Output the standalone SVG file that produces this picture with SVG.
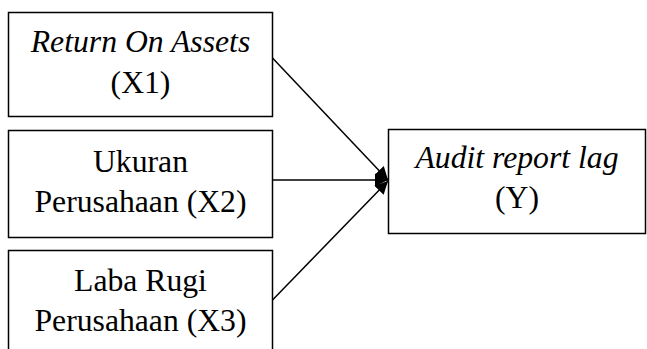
<svg xmlns="http://www.w3.org/2000/svg" width="647" height="349" viewBox="0 0 647 349">
<style>
.box{fill:#fff;stroke:#000;stroke-width:1.5}
.t{font-family:"Liberation Serif","Times New Roman",serif;font-size:31.7px;fill:#000;text-anchor:middle}
.i{font-style:italic}
.c{stroke:#000;stroke-width:1.5;fill:none;marker-end:url(#ah)}
</style>
<defs>
<marker id="ah" markerUnits="userSpaceOnUse" markerWidth="14" markerHeight="16" refX="13" refY="8" orient="auto">
<path d="M0,1.5 L13,8 L0,14.5 Z" fill="#000"/>
</marker>
</defs>
<rect width="647" height="349" fill="#fff"/>
<g id="connectors">
<line class="c" x1="272.5" y1="58" x2="388" y2="180"/>
<line class="c" x1="272.5" y1="180" x2="388" y2="180"/>
<line class="c" x1="272.5" y1="300" x2="388" y2="181"/>
</g>
<g id="x1">
<rect class="box" x="8.5" y="12.5" width="264" height="104"/>
<text class="t i" x="140.5" y="52">Return On Assets</text>
<text class="t" x="140.5" y="93">(X1)</text>
</g>
<g id="x2">
<rect class="box" x="8.5" y="130.5" width="264" height="107"/>
<text class="t" x="140.5" y="172">Ukuran</text>
<text class="t" x="140.5" y="212">Perusahaan (X2)</text>
</g>
<g id="x3">
<rect class="box" x="8.5" y="250.5" width="264" height="107"/>
<text class="t" x="140.5" y="291">Laba Rugi</text>
<text class="t" x="140.5" y="331">Perusahaan (X3)</text>
</g>
<g id="y">
<rect class="box" x="388.5" y="129.5" width="257" height="104"/>
<text class="t i" x="517" y="168">Audit report lag</text>
<text class="t" x="517" y="208">(Y)</text>
</g>
</svg>
